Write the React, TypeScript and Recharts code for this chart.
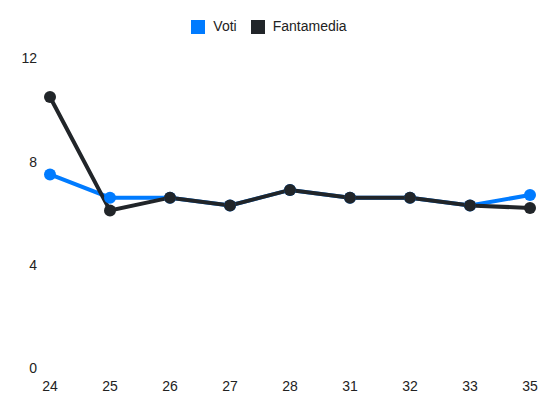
import React from "react";
import { LineChart, Line, XAxis, YAxis, Legend } from "recharts";

const giornate = ["24", "25", "26", "27", "28", "31", "32", "33", "35"];
const voti = [7.5, 6.6, 6.6, 6.3, 6.9, 6.6, 6.6, 6.3, 6.7];
const fantamedia = [10.5, 6.1, 6.6, 6.3, 6.9, 6.6, 6.6, 6.3, 6.2];
const yTicks = [0, 4, 8, 12];

const data = giornate.map((g, i) => ({ g, voti: voti[i], fantamedia: fantamedia[i] }));

const BLUE = "#007bff";
const DARK = "#212529";

export default function App() {
  return (
    <div style={{ position: "absolute", left: 0, top: 0, fontFamily: "'Liberation Sans', Arial, sans-serif" }}>
      <LineChart width={550} height={412} data={data} margin={{ top: 42, right: 20, bottom: 14, left: 0 }}>
        <Legend
          verticalAlign="top"
          align="center"
          iconType="square"
          iconSize={14}
          itemSorter={null}
          wrapperStyle={{ top: 18, fontSize: 14, lineHeight: "16px", transform: "translateX(11px)" }}
          formatter={(v: string) => <span style={{ color: "#222", marginLeft: 4, marginRight: 4 }}>{v}</span>}
        />
        <XAxis
          dataKey="g"
          axisLine={false}
          tickLine={false}
          tick={{ fill: "#222", fontSize: 14 }}
          tickMargin={7}
          padding={{ left: 0, right: 0 }}
          interval={0}
        />
        <YAxis
          domain={[0, 12]}
          ticks={yTicks}
          axisLine={false}
          tickLine={false}
          tick={{ fill: "#222", fontSize: 14 }}
          width={50}
          tickMargin={7}
        />
        <Line
          name="Voti"
          dataKey="voti"
          stroke={BLUE}
          strokeWidth={4}
          dot={{ r: 6, fill: BLUE, stroke: BLUE, strokeWidth: 0 }}
          activeDot={false}
          isAnimationActive={false}
        />
        <Line
          name="Fantamedia"
          dataKey="fantamedia"
          stroke={DARK}
          strokeWidth={4}
          dot={{ r: 6, fill: DARK, stroke: DARK, strokeWidth: 0 }}
          activeDot={false}
          isAnimationActive={false}
        />
      </LineChart>
    </div>
  );
}
